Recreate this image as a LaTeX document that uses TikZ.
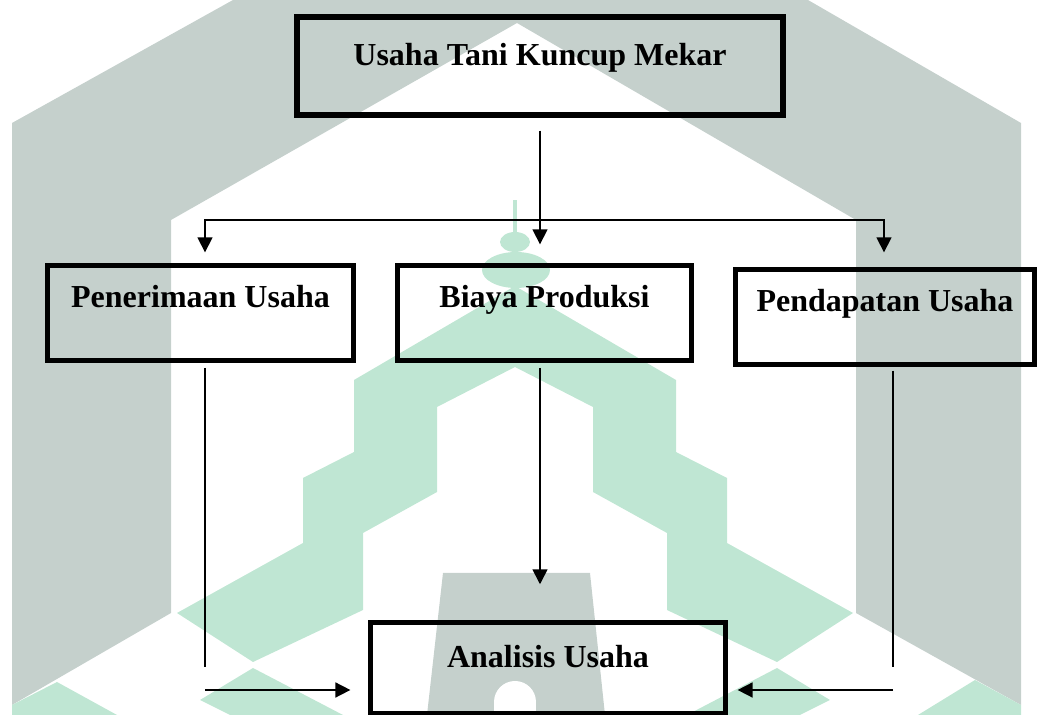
\documentclass[tikz,border=0pt]{standalone}
\usepackage{fontspec}
\setmainfont{Liberation Serif}
\usepackage{xcolor}
\usepackage{tikz}
\usetikzlibrary{arrows.meta}
\usetikzlibrary{calc}

\definecolor{abu}{RGB}{197,208,204}
\definecolor{hijau}{RGB}{191,230,211}

\begin{document}
\begin{tikzpicture}[x=0.375pt,y=-0.375pt,>={Triangle[length=5.6pt,width=5.6pt]},line width=0.6pt]
 \tikzstyle{kotak}=[draw=black, line width=2pt, rectangle, inner sep=0pt, font=\fontsize{12}{14}\selectfont\bfseries, text height=8pt, text depth=12pt, minimum height=35.5pt]
 \useasboundingbox (0,0) rectangle (1038,715);
 % logo di latar
 \fill[abu, even odd rule] (12,705) -- (12,123) -- (233,0) -- (808,0) -- (1021,123) -- (1021,705) -- (856,613) -- (856,220) -- (517,23) -- (171,220) -- (171,613) -- cycle;
 \fill[abu] (443,573) -- (590,573) -- (605,715) -- (427,715) -- cycle;
 \fill[white] (515,702) circle[radius=21];
 \fill[white] (494,702) rectangle (536,715);
 \fill[hijau] (513,200) rectangle (517,232);
 \fill[hijau] (515,242) ellipse[x radius=15, y radius=10];
 \fill[hijau] (516,270) ellipse[x radius=34, y radius=18];
 \fill[hijau] (515,286) -- (354,380) -- (354,452) -- (303,478) -- (303,543) -- (177,613) -- (253,662) -- (363,610) -- (363,533) -- (437,492) -- (437,407) -- (515,367) -- (593,407) -- (593,492) -- (667,533) -- (667,610) -- (777,662) -- (853,613) -- (727,543) -- (727,478) -- (676,452) -- (676,380) -- cycle;
 \fill[hijau] (12,705) -- (57,682) -- (117,715) -- (12,715) -- cycle;
 \fill[hijau] (200,700) -- (253,668) -- (343,715) -- (230,715) -- cycle;
 \fill[hijau] (830,700) -- (777,668) -- (687,715) -- (800,715) -- cycle;
 \fill[hijau] (1021,705) -- (975,680) -- (918,715) -- (1021,715) -- cycle;
 % kotak
 \node[kotak, text depth=8pt, minimum height=36.75pt, minimum width=182.25pt] (U) at (540,66) {Usaha Tani Kuncup Mekar};
 \node[kotak, minimum width=114.6pt] (T) at (200.5,313) {Penerimaan Usaha};
 \node[kotak, minimum width=110.1pt] (B) at (544.5,313) {Biaya Produksi};
 \node[kotak, minimum width=112pt] (P) at (885,317) {Pendapatan Usaha};
 \node[kotak, text depth=8pt, minimum height=34pt, minimum width=133pt] (A) at (548,668) {Analisis Usaha};
 \coordinate (kiri) at (205,220);
 \coordinate (kanan) at (884,220);
 \coordinate (T1) at (205,667);
 \coordinate (T2) at (205,690);
 \coordinate (P1) at (893,667);
 \coordinate (P2) at (893,690);
 % garis
 \draw[<->, shorten <=4pt, shorten >=5.5pt] (kiri |- T.north) -- (kiri) -- (kanan) -- (kanan |- P.north);
 \path[->]
 (U.south) edge[shorten <=4.9pt, shorten >=7pt] (U.south |- B.north)
 (U.south |- B.south) edge[shorten <=1.8pt, shorten >=13.4pt] (U.south |- A.north)
 (T2) edge[shorten >=6.6pt] (T2 -| A.west)
 (P2) edge[shorten >=3.6pt] (P2 -| A.east);
 \draw[shorten <=1.8pt] (T1 |- T.south) -- (T1);
 \draw[shorten <=1.4pt] (P1 |- P.south) -- (P1);
\end{tikzpicture}
\end{document}
